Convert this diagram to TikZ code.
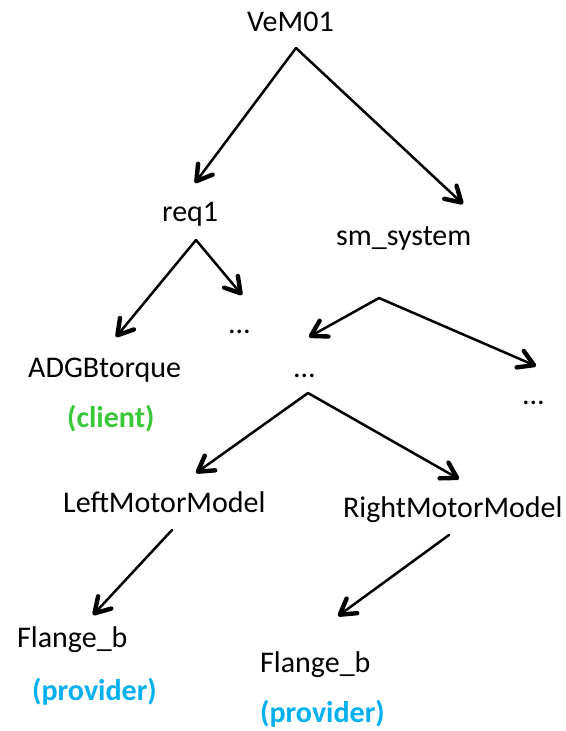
\documentclass[tikz,border=0pt]{standalone}
\usepackage{fontspec}
\setmainfont{Carlito}
\usetikzlibrary{arrows.meta}
\definecolor{clientgreen}{RGB}{58,200,58}
\definecolor{provblue}{RGB}{0,176,240}
\tikzset{
  lbl/.style={anchor=base west, inner sep=0pt, font=\fontsize{30}{35}\selectfont},
  tag/.style={lbl, font=\fontsize{30}{35}\selectfont\bfseries},
  conn/.style={line width=2.5pt, line cap=round,
    -{Straight Barb[length=15pt,width=18pt,line width=4.4pt,round]}}
}
\begin{document}
\begin{tikzpicture}[x=1pt,y=-1pt]
\useasboundingbox (0,0) rectangle (565,731);
% text nodes
\node[lbl] (vem) at (247,31) {VeM01};
\node[lbl] (req) at (162,221) {req1};
\node[lbl] (sm) at (336,245) {sm\_system};
\node[lbl] (dotsA) at (229,333) {…};
\node[lbl] (adgb) at (28,377) {ADGBtorque};
\node[tag, text=clientgreen] (client) at (67,427) {(client)};
\node[lbl] (dotsB) at (294,377) {…};
\node[lbl] (dotsC) at (523,404) {…};
\node[lbl] (lmm) at (63,512) {LeftMotorModel};
\node[lbl] (rmm) at (343,517) {RightMotorModel};
\node[lbl] (flL) at (17,647) {Flange\_b};
\node[tag, text=provblue] (provL) at (32,700) {(provider)};
\node[lbl] (flR) at (260,672) {Flange\_b};
\node[tag, text=provblue] (provR) at (260,722) {(provider)};
% connector end points
\coordinate (vem-out) at (296,48);
\coordinate (req-in) at (195,183);
\coordinate (sm-in) at (463,204);
\coordinate (req-out) at (196,240);
\coordinate (adgb-in) at (116,337);
\coordinate (dotsA-in) at (242,295);
\coordinate (sm-out) at (379,298);
\coordinate (dotsB-in) at (309,337);
\coordinate (dotsC-in) at (536,366);
\coordinate (dotsB-out) at (308,393);
\coordinate (lmm-in) at (196,473);
\coordinate (rmm-in) at (459,479);
\coordinate (lmm-out) at (172,530);
\coordinate (flL-in) at (93,615);
\coordinate (rmm-out) at (449,535);
\coordinate (flR-in) at (338,616);
% connectors
\draw[conn] (vem-out) -- (req-in);
\draw[conn] (vem-out) -- (sm-in);
\draw[conn] (req-out) -- (adgb-in);
\draw[conn] (req-out) -- (dotsA-in);
\draw[conn] (sm-out) -- (dotsB-in);
\draw[conn] (sm-out) -- (dotsC-in);
\draw[conn] (dotsB-out) -- (lmm-in);
\draw[conn] (dotsB-out) -- (rmm-in);
\draw[conn] (lmm-out) -- (flL-in);
\draw[conn] (rmm-out) -- (flR-in);
\end{tikzpicture}
\end{document}
